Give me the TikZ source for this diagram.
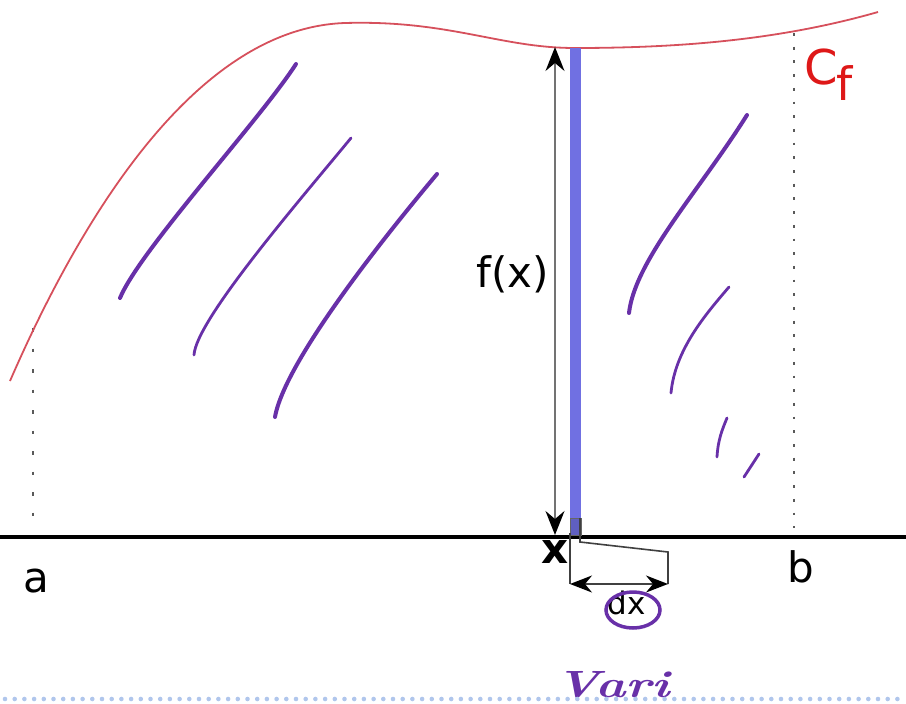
\documentclass[tikz,border=0pt]{standalone}
\usepackage{fontspec}
\newfontfamily\labfont{DejaVu Sans}
\usetikzlibrary{arrows.meta}
\definecolor{curvered}{RGB}{214,80,92}
\definecolor{pen}{RGB}{104,48,168}
\definecolor{barblue}{RGB}{112,112,226}
\definecolor{dotblue}{RGB}{176,198,236}
\definecolor{labred}{RGB}{222,24,24}
\begin{document}
\begin{tikzpicture}[x=1pt,y=-1pt,
  lab/.style={inner sep=0pt, font=\labfont\fontsize{42}{42}\selectfont},
  penline/.style={draw=pen, line width=4pt, line cap=round},
  thinpen/.style={draw=pen, line width=2.8pt, line cap=round},
  guide/.style={draw=black!65, line width=2.8pt},
  bracket/.style={draw=black!75, line width=1.6pt},
  bigtip/.tip={Stealth[black,length=24pt,width=19pt,inset=8pt]},
  dxtip/.tip={Stealth[black,length=22pt,width=17pt,inset=7pt]}]
\useasboundingbox (0,0) rectangle (906,704);

% axis
\coordinate (axL) at (0,537);
\coordinate (axR) at (906,537);
\draw[line width=3.4pt] (axL) -- (axR);

% dotted verticals
\coordinate (aT) at (33,328); \coordinate (aB) at (33,522);
\coordinate (bT) at (794,33); \coordinate (bB) at (794,528);
\draw[guide, dash pattern=on 3.5pt off 17pt] (aT) -- (aB);
\draw[guide, dash pattern=on 2.8pt off 10.9pt] (bT) -- (bB);

% curve C_f
\coordinate (c0) at (10,381);
\coordinate (c1) at (345,23);
\coordinate (c2) at (575,48);
\coordinate (c3) at (878,12);
\draw[curvered, line width=1.8pt] (c0) .. controls (80,220) and (195,28) .. (c1)
  .. controls (450,20) and (500,48) .. (c2)
  .. controls (680,48) and (780,40) .. (c3);

% blue strip
\fill[barblue] (570,48) rectangle (581,535);
\draw[black!60, line width=0.8pt, fill=barblue!85!black] (570,518) rectangle (581,535);

% f(x) arrow
\coordinate (fT) at (555,47);
\coordinate (fB) at (555,535);
\draw[black!55, line width=1.7pt, bigtip-bigtip] (fT) -- (fB);
\node[lab, anchor=base] (flab) at (513,287) {f(x)};

% dx bracket
\coordinate (d1) at (570,533);
\coordinate (d2) at (570,584);
\coordinate (e1) at (580,518);
\coordinate (e2) at (580,542);
\coordinate (e3) at (668,552);
\coordinate (e4) at (668,584);
\draw[bracket] (d1) -- (d2);
\draw[bracket] (e1) -- (e2) -- (e3) -- (e4);
\draw[bracket, dxtip-dxtip] (d2) -- (e4);

% labels
\node[lab, anchor=base] (alab) at (36,592) {a};
\node[lab, anchor=base] (blab) at (801,582) {b};
\node[lab, anchor=base, font=\labfont\bfseries\fontsize{42}{42}\selectfont] (xlab) at (555,563) {x};
\node[inner sep=0pt, anchor=base, font=\labfont\fontsize{31}{31}\selectfont] (dxlab) at (627,614) {dx};
\node[inner sep=0pt, anchor=base west, text=labred, font=\labfont\fontsize{48}{48}\selectfont] (Clab) at (804,84) {C};
\node[inner sep=0pt, anchor=base west, text=labred, font=\labfont\fontsize{46}{46}\selectfont] (flabr) at (836,100) {f};

% hatching strokes (left)
\draw[penline] (120,298) .. controls (140,250) and (260,120) .. (296,64);
\draw[thinpen] (194,355) .. controls (196,320) and (300,200) .. (351,138);
\draw[penline] (275,417) .. controls (285,360) and (390,230) .. (437,174);
% hatching strokes (right)
\draw[penline] (629,313) .. controls (635,260) and (700,190) .. (747,115);
\draw[thinpen] (671,393) .. controls (675,350) and (705,315) .. (729,287);
\draw[thinpen] (717,457) .. controls (718,440) and (722,430) .. (727,418);
\draw[thinpen] (744,477) -- (759,454);

% circle around dx
\coordinate (dxc) at (633,610);
\draw[pen, line width=3.5pt] (dxc) ellipse [x radius=27, y radius=18];

% handwritten word
\node[inner sep=0pt, anchor=base west, text=pen, xscale=1.35, font=\fontsize{38}{38}\selectfont\bfseries\itshape] (vari) at (555,697) {Vari};

% dotted bottom line
\coordinate (dl) at (5,699);
\coordinate (dr) at (906,699);
\draw[dotblue, line width=4.6pt, line cap=round, dash pattern=on 0pt off 9.7pt] (dl) -- (dr);
\end{tikzpicture}
\end{document}
